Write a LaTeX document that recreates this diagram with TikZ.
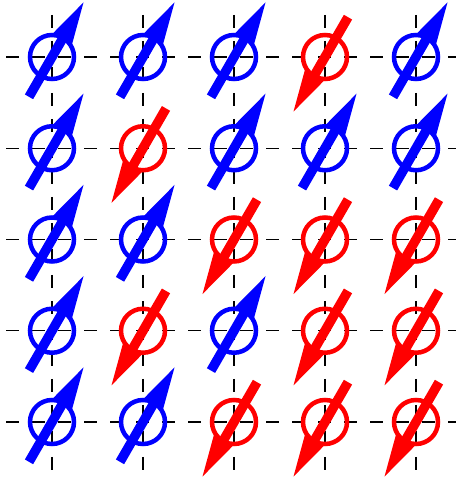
\documentclass[tikz,border=0pt]{standalone}
\begin{document}
\begin{tikzpicture}[x=1pt,y=1pt,
  gridline/.style={black, line width=1.3pt, dash pattern=on 13pt off 13pt},
  ring/.style={line width=4.5pt},
  pics/upspin/.style={code={
    \draw[blue,ring] (0,0) circle[radius=22pt];
    \fill[blue,rotate=60] (-46,-4.75) -- (21,-4.75) -- (21,-11) -- (63,0) -- (21,11) -- (21,4.75) -- (-46,4.75) -- cycle;
  }},
  pics/dnspin/.style={code={
    \draw[red,ring] (0,0) circle[radius=22pt];
    \fill[red,rotate=240] (-46,-4.75) -- (21,-4.75) -- (21,-11) -- (63,0) -- (21,11) -- (21,4.75) -- (-46,4.75) -- cycle;
  }}
]
\useasboundingbox (0,0) rectangle (456,481);
% dashed grid
\foreach \y in {424,332.75,241.5,150.25,59} {
  \draw[gridline] (6,\y) -- (456,\y);
}
\foreach \x in {52,143,234,325,416} {
  \draw[gridline] (\x,466) -- (\x,0);
}
% spins: row by row from top
\foreach \s [count=\j from 0] in {u,u,u,d,u} {
  \pgfmathsetmacro\xx{52+91*\j}
  \if\s u \pic at (\xx,424) {upspin}; \else \pic at (\xx,424) {dnspin}; \fi
}
\foreach \s [count=\j from 0] in {u,d,u,u,u} {
  \pgfmathsetmacro\xx{52+91*\j}
  \if\s u \pic at (\xx,332.75) {upspin}; \else \pic at (\xx,332.75) {dnspin}; \fi
}
\foreach \s [count=\j from 0] in {u,u,d,d,d} {
  \pgfmathsetmacro\xx{52+91*\j}
  \if\s u \pic at (\xx,241.5) {upspin}; \else \pic at (\xx,241.5) {dnspin}; \fi
}
\foreach \s [count=\j from 0] in {u,d,u,d,d} {
  \pgfmathsetmacro\xx{52+91*\j}
  \if\s u \pic at (\xx,150.25) {upspin}; \else \pic at (\xx,150.25) {dnspin}; \fi
}
\foreach \s [count=\j from 0] in {u,u,d,d,d} {
  \pgfmathsetmacro\xx{52+91*\j}
  \if\s u \pic at (\xx,59) {upspin}; \else \pic at (\xx,59) {dnspin}; \fi
}
\end{tikzpicture}
\end{document}
